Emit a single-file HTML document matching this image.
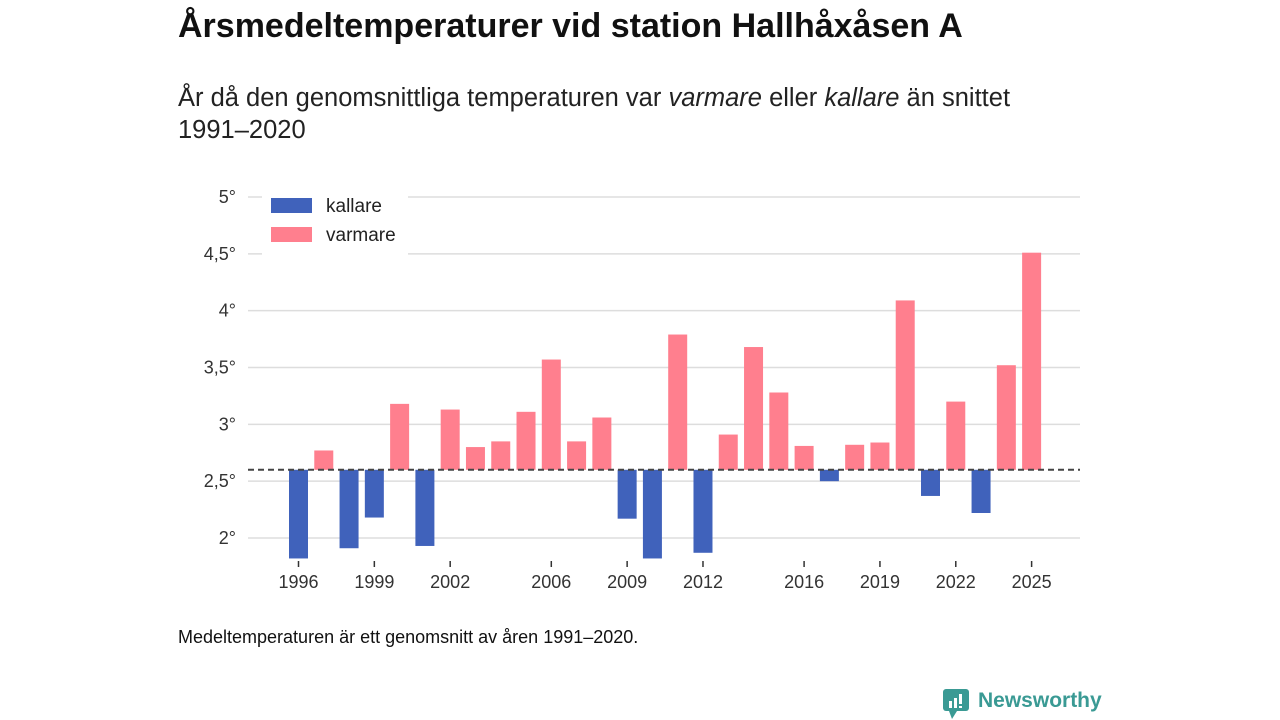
<!DOCTYPE html>
<html><head><meta charset="utf-8"><style>
body{margin:0;width:1280px;height:720px;background:#fff;font-family:"Liberation Sans",sans-serif;overflow:hidden;position:relative;color:#111}
</style></head><body>
<div style="position:absolute;left:178px;top:7px;font-size:34px;font-weight:bold;color:#111;white-space:nowrap">Årsmedeltemperaturer vid station Hallhåxåsen A</div>
<div style="position:absolute;left:178px;top:82px;font-size:25.5px;line-height:32px;width:1000px;color:#222">År då den genomsnittliga temperaturen var <i>varmare</i> eller <i>kallare</i> än snittet<br>1991–2020</div>
<svg id="chart" width="1280" height="720" style="position:absolute;left:0;top:0"></svg>
<div style="position:absolute;left:178px;top:627px;font-size:18px;color:#111;white-space:nowrap">Medeltemperaturen är ett genomsnitt av åren 1991–2020.</div>
<div style="position:absolute;left:943px;top:688px;height:30px">
<svg width="28" height="32" style="position:absolute;left:0;top:0"><rect x="0" y="1" width="26" height="22" rx="3" fill="#3a9a94"/><polygon points="6,23 14,23 9,31" fill="#3a9a94"/><rect x="6" y="13" width="3" height="7" fill="#fff"/><rect x="11" y="10" width="3" height="10" fill="#fff"/><rect x="16" y="6" width="3" height="10" fill="#fff"/><rect x="16" y="18" width="3" height="2" fill="#fff"/></svg>
<span style="position:absolute;left:35px;top:1px;font-size:21px;font-weight:bold;color:#3a9a94;white-space:nowrap">Newsworthy</span></div>
<script>
const years=[1996,1997,1998,1999,2000,2001,2002,2003,2004,2005,2006,2007,2008,2009,2010,2011,2012,2013,2014,2015,2016,2017,2018,2019,2020,2021,2022,2023,2024,2025];
const temps=[1.82,2.77,1.91,2.18,3.18,1.93,3.13,2.80,2.85,3.11,3.57,2.85,3.06,2.17,1.82,3.79,1.87,2.91,3.68,3.28,2.81,2.50,2.82,2.84,4.09,2.37,3.20,2.22,3.52,4.51];
const baseline=2.6;
const yTicks=[2,2.5,3,3.5,4,4.5,5];
const yTickLabels=["2°","2,5°","3°","3,5°","4°","4,5°","5°"];
const xTickYears=[1996,1999,2002,2006,2009,2012,2016,2019,2022,2025];
const svg=document.getElementById('chart');const NS='http://www.w3.org/2000/svg';
const y=v=>538-(v-2)*113.67;
const x=yr=>298.5+(yr-1996)*25.28;
function mk(t,a){const e=document.createElementNS(NS,t);for(const k in a)e.setAttribute(k,a[k]);svg.appendChild(e);return e;}
yTicks.forEach((v,i)=>{
 const g=mk('line',{x1:248,x2:1080,y1:y(v),y2:y(v),stroke:'#dddddd','stroke-width':1.5});
 
 
 const t=mk('text',{x:236,y:y(v)+6,'text-anchor':'end','font-size':18,fill:'#333'});t.textContent=yTickLabels[i];
 
 
});
years.forEach((yr,i)=>{
 const v=temps[i];const warm=v>=baseline;
 const r=mk('rect',{x:x(yr)-9.5,width:19,y:Math.min(y(v),y(baseline)),height:Math.abs(y(v)-y(baseline)),fill:warm?'#ff7f8e':'#4062bb'});
 
 
});
const bl=mk('line',{x1:248,x2:1080,y1:y(baseline),y2:y(baseline),stroke:'#444','stroke-width':2,'stroke-dasharray':'6,4'});


xTickYears.forEach(yr=>{
 const l=mk('line',{x1:x(yr),x2:x(yr),y1:561,y2:567,stroke:'#333','stroke-width':1.5});
 
 
 const t=mk('text',{x:x(yr),y:588,'text-anchor':'middle','font-size':18,fill:'#333'});t.textContent=yr;
 
 
});
const lb=mk('rect',{x:262,y:190,width:146,height:65,fill:'#fff'});


[['kallare','#4062bb',198],['varmare','#ff7f8e',227]].forEach(([n,c,yy])=>{
 const s=mk('rect',{x:271,y:yy,width:41,height:15,fill:c});
 
 
 const t=mk('text',{x:326,y:yy+14,'font-size':19,fill:'#222'});t.textContent=n;
 
 
});
</script>
</body></html>
